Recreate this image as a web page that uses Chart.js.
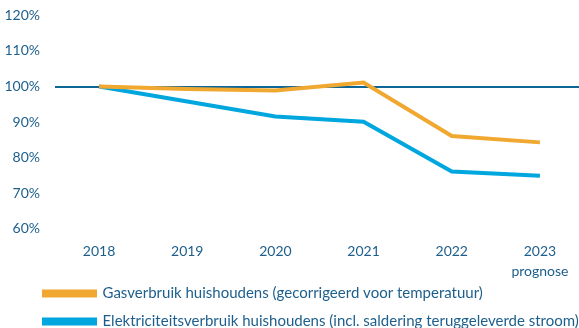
<!DOCTYPE html>
<html>
<head>
<meta charset="utf-8">
<script src="https://cdn.jsdelivr.net/npm/chart.js@4/dist/chart.umd.min.js"></script>
<style>
  html, body { margin: 0; padding: 0; background: #fff; overflow: hidden; }
  #wrap { width: 584px; height: 336px; margin-top: -8px; }
</style>
</head>
<body>
<div id="wrap"><canvas id="grafiek"></canvas></div>
<script>
const jaren = ['2018', '2019', '2020', '2021', '2022', ['2023', 'prognose']];
const gasVerbruik = [100, 99.3, 98.9, 101.1, 86.1, 84.3];
const elektriciteit = [100, 95.8, 91.6, 90.1, 76.1, 74.9];
const yMin = 60;
const yMax = 120;
const yStap = 10;

const tekstKleur = '#1d5f8c';

// legenda iets naar rechts en omhoog schuiven, los van de y-as
const legendaVerschuiving = {
  id: 'legendaVerschuiving',
  afterLayout(chart) {
    const lg = chart.legend;
    lg.left += 31;
    lg.right += 31;
    lg.top -= 21;
    lg.bottom -= 21;
  },
};

const ctx = document.getElementById('grafiek');
new Chart(ctx, {
  type: 'line',
  data: {
    labels: jaren,
    datasets: [
      {
        label: 'Gasverbruik huishoudens (gecorrigeerd voor temperatuur)',
        data: gasVerbruik,
        borderColor: '#f0a830',
        backgroundColor: '#f0a830',
        borderWidth: 4,
        pointRadius: 0,
        tension: 0,
      },
      {
        label: 'Elektriciteitsverbruik huishoudens (incl. saldering teruggeleverde stroom)',
        data: elektriciteit,
        borderColor: '#00a6de',
        backgroundColor: '#00a6de',
        borderWidth: 4,
        pointRadius: 0,
        tension: 0,
      },
    ],
  },
  plugins: [legendaVerschuiving],
  options: {
    responsive: true,
    maintainAspectRatio: false,
    animation: false,
    layout: { padding: { left: 0, top: -8, right: 0, bottom: -32 } },
    plugins: {
      tooltip: { enabled: false },
      legend: {
        position: 'bottom',
        align: 'start',
        labels: {
          boxWidth: 51,
          boxHeight: 4,
          padding: 13,
          color: tekstKleur,
          font: { family: 'Lato', size: 15 },
        },
      },
    },
    scales: {
      x: {
        offset: true,
        border: { display: false },
        grid: { display: false, drawTicks: false },
        ticks: {
          color: tekstKleur,
          font: { family: 'Lato', size: 14, lineHeight: 1.4 },
          padding: 13,
          maxRotation: 0,
        },
      },
      y: {
        min: yMin,
        max: yMax,
        border: { display: false },
        afterFit: (scale) => { scale.width = 55; },
        grid: {
          drawTicks: false,
          lineWidth: 2,
          color: (c) => (c.tick && c.tick.value === 100 ? '#0d6696' : 'rgba(0,0,0,0)'),
        },
        ticks: {
          stepSize: yStap,
          color: tekstKleur,
          font: { family: 'Lato', size: 14 },
          padding: 15,
          callback: (v) => v + '%',
        },
      },
    },
  },
});
</script>
</body>
</html>
